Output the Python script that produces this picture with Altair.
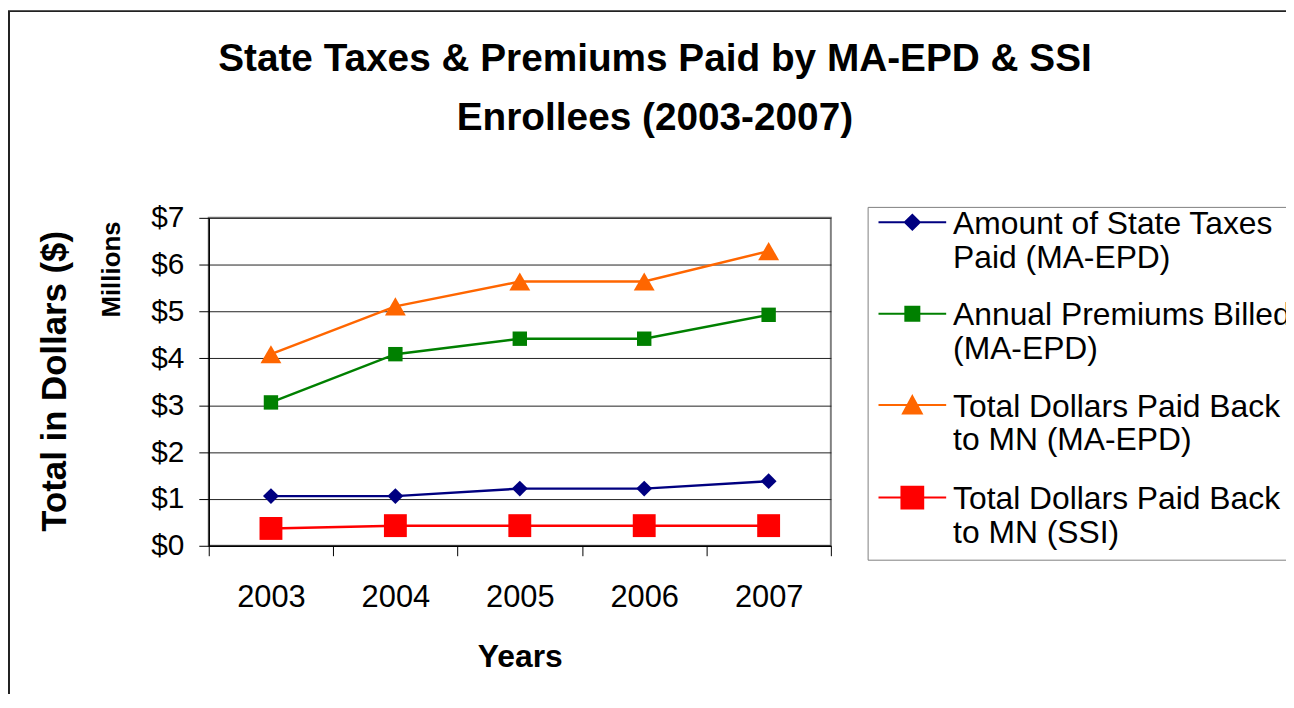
import altair as alt
import pandas as pd

# ---------------- data ----------------
years = ["2003", "2004", "2005", "2006", "2007"]
series_names = [
    "Amount of State Taxes\nPaid (MA-EPD)",
    "Annual Premiums Billed\n(MA-EPD)",
    "Total Dollars Paid Back\nto MN (MA-EPD)",
    "Total Dollars Paid Back\nto MN (SSI)",
]
state_taxes_paid = [1.06, 1.06, 1.22, 1.22, 1.38]
premiums_billed = [3.06, 4.09, 4.42, 4.42, 4.93]
paid_back_maepd = [4.09, 5.11, 5.64, 5.64, 6.29]
paid_back_ssi = [0.37, 0.43, 0.43, 0.43, 0.43]
y_ticks = [0, 1, 2, 3, 4, 5, 6, 7]
title_lines = ["State Taxes & Premiums Paid by MA-EPD & SSI", "Enrollees (2003-2007)"]
y_title = "Total in Dollars ($)"
y_unit = ["Millions"]
x_title = "Years"

# ---------------- styles ----------------
colors = ["#000080", "#008000", "#FF6600", "#FF0000"]
marker_shapes = ["diamond", "square", "triangle-up", "square"]
marker_sizes = [256, 210, 441, 530]
# legend symbols: a line with the marker on it, drawn 15 px per unit
legend_paths = [
    "M-2.27,-0.77H2.27M-0.5,-0.77L0,-1.27L0.5,-0.77L0,-0.27Z",
    "M-2.27,-0.77H2.27M-0.47,-1.24H0.47V-0.3H-0.47Z",
    "M-2.27,-0.77H2.27M0,-1.37L0.63,-0.2H-0.63Z",
    "M-2.27,-0.77H2.27M-0.73,-1.5H0.73V-0.04H-0.73Z",
]
FONT = "Liberation Sans"

all_values = [state_taxes_paid, premiums_billed, paid_back_maepd, paid_back_ssi]
rows = []
for name, vals in zip(series_names, all_values):
    for yr, v in zip(years, vals):
        rows.append({"year": yr, "series": name, "value": v})
df = pd.DataFrame(rows)

x_enc = alt.X(
    "year:O",
    scale=alt.Scale(type="band", domain=years, paddingInner=0, paddingOuter=0),
    bandPosition=0.5,
    axis=alt.Axis(
        title=x_title,
        tickBand="extent",
        labelAngle=0,
        labelFontSize=31,
        labelColor="black",
        labelPadding=27,
        tickSize=10,
        tickColor="black",
        domainColor="black",
        domainWidth=1.5,
        grid=False,
        titleFontSize=32,
        titleFontWeight="bold",
        titleColor="black",
        titleBaseline="alphabetic",
        titleY=121,
    ),
)
y_enc = alt.Y(
    "value:Q",
    scale=alt.Scale(domain=[0, 7], nice=False, zero=True),
    axis=alt.Axis(
        values=y_ticks,
        labelExpr="'$' + datum.value",
        labelFontSize=30,
        labelColor="black",
        labelPadding=15,
        tickSize=10,
        tickColor="black",
        domainColor="black",
        domainWidth=1.5,
        grid=True,
        gridColor="#222222",
        gridWidth=1,
        title=y_title,
        titleFontSize=35,
        titleFontWeight="bold",
        titleColor="black",
        titleAngle=270,
        titleAlign="center",
        titleBaseline="alphabetic",
        titleX=-144,
        titleY=164,
    ),
)

color_scale = alt.Scale(domain=series_names, range=colors)

lines = alt.Chart(df).mark_line(strokeWidth=2.5).encode(
    x=x_enc,
    y=y_enc,
    color=alt.Color("series:N", scale=color_scale, legend=None),
)

point_layers = []
for name, shp, sz in zip(series_names, marker_shapes, marker_sizes):
    point_layers.append(
        alt.Chart(df)
        .transform_filter(alt.datum.series == name)
        .mark_point(filled=True, opacity=1, shape=shp, size=sz)
        .encode(
            x=x_enc,
            y=y_enc,
            color=alt.Color("series:N", scale=color_scale, legend=None),
        )
    )

leg = alt.Legend(
    title=None,
    orient="none",
    legendX=663,
    legendY=-11,
    labelExpr="split(datum.label, '\\n')",
    labelFontSize=32,
    labelFont=FONT,
    labelColor="black",
    labelLimit=1000,
    labelBaseline="alphabetic",
    labelOffset=25,
    symbolSize=900,
    symbolOffset=18,
    symbolStrokeWidth=2,
    symbolOpacity=1,
    symbolFillColor="white",
    symbolStrokeColor="black",
    strokeColor="#808080",
    fillColor="white",
    padding=11,
    rowPadding=26,
)

legend_layer = alt.Chart(df).transform_filter("datum.value < 0").mark_point(filled=True, opacity=1).encode(
    x=x_enc,
    y=y_enc,
    fill=alt.Fill("series:N", scale=alt.Scale(domain=series_names, range=colors), legend=leg),
    stroke=alt.Stroke("series:N", scale=alt.Scale(domain=series_names, range=colors), legend=leg),
    shape=alt.Shape("series:N", scale=alt.Scale(domain=series_names, range=legend_paths), legend=leg),
)

title_text = alt.Chart(pd.DataFrame({"t": ["\n".join(title_lines)]})).mark_text(
    fontSize=39, fontWeight="bold", align="center", baseline="alphabetic", color="black",
    font=FONT, lineBreak="\n", lineHeight=60,
).encode(x=alt.value(449), y=alt.value(-148), text="t:N")

unit_label = alt.Chart(pd.DataFrame({"t": y_unit})).mark_text(
    angle=270, fontSize=26, fontWeight="bold", align="center", baseline="alphabetic", color="black", font=FONT
).encode(x=alt.value(-89.5), y=alt.value(52), text="t:N")

frame = alt.Chart(pd.DataFrame({"t": [0]})).mark_rect(
    fillOpacity=0, stroke="#222222", strokeWidth=2
).encode(x=alt.value(-201), y=alt.value(-208), x2=alt.value(1500), y2=alt.value(1500))

chart = (
    alt.layer(frame, lines, *point_layers, legend_layer, title_text, unit_label)
    .resolve_scale(fill="independent", stroke="independent", shape="independent")
    .properties(
        width=626,
        height=330,
        padding={"left": 202, "top": 209, "right": 458, "bottom": 147},
        autosize=alt.AutoSizeParams(type="none"),
        background="white",
    )
    .configure(font=FONT)
    .configure_view(stroke="#808080", strokeWidth=2)
)

chart.save("out.html", embed_options={"renderer": "svg", "actions": False})
